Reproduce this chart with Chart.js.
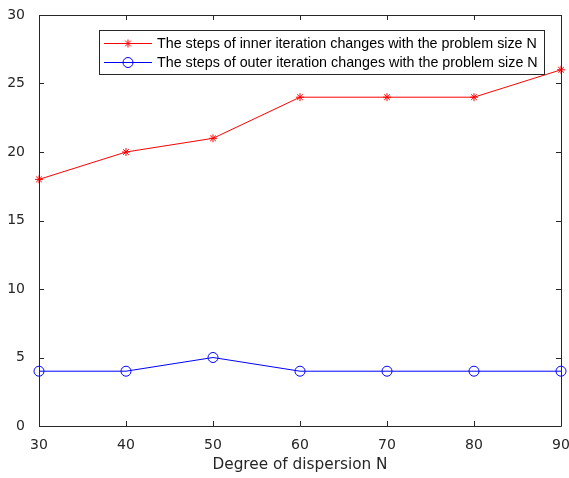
<!DOCTYPE html>
<html><head><meta charset="utf-8">
<script src="https://cdn.jsdelivr.net/npm/chart.js@4"></script>
<style>html,body{margin:0;padding:0;background:#fff}#wrap{width:569px;height:478px}</style>
</head><body><div id="wrap"><canvas id="c" width="569" height="478"></canvas></div>
<script>
const xValues = [30, 40, 50, 60, 70, 80, 90];
const innerSteps = [18, 20, 21, 24, 24, 24, 26];
const outerSteps = [4, 4, 5, 4, 4, 4, 4];
const xTicks = [30, 40, 50, 60, 70, 80, 90];
const yTicks = [0, 5, 10, 15, 20, 25, 30];
const innerLabel = 'The steps of inner iteration changes with the problem size N';
const outerLabel = 'The steps of outer iteration changes with the problem size N';
const xTitle = 'Degree of dispersion N';
const FONT = '"DejaVu Sans", sans-serif';
const LFONT = '"Liberation Sans", Arial, sans-serif';
const AX = '#262626';

const framePlugin = {
  id: 'frame',
  afterDatasetsDraw(chart) {
    const {ctx, chartArea: a, scales: {x, y}} = chart;
    ctx.save();
    ctx.strokeStyle = AX; ctx.lineWidth = 1;
    ctx.beginPath();
    ctx.rect(Math.round(a.left) + 0.5, Math.round(a.top) + 0.5, Math.round(a.right - a.left), Math.round(a.bottom - a.top));
    ctx.stroke();
    ctx.beginPath();
    xTicks.forEach(v => {
      const px = Math.round(x.getPixelForValue(v)) + 0.5;
      ctx.moveTo(px, a.bottom); ctx.lineTo(px, a.bottom - 5);
      ctx.moveTo(px, a.top); ctx.lineTo(px, a.top + 5);
    });
    yTicks.forEach(v => {
      const py = Math.round(y.getPixelForValue(v)) + 0.5;
      ctx.moveTo(a.left, py); ctx.lineTo(a.left + 5, py);
      ctx.moveTo(a.right, py); ctx.lineTo(a.right - 5, py);
    });
    ctx.stroke();
    // legend
    const lx = 99.5, ly = 30.5, lw = 445, lh = 44;
    ctx.fillStyle = '#fff'; ctx.fillRect(lx, ly, lw, lh);
    ctx.strokeStyle = AX; ctx.strokeRect(lx, ly, lw, lh);
    ctx.font = '14.3px ' + LFONT; ctx.textBaseline = 'middle';
    const items = [
      {label: innerLabel, color: '#ff0000', style: 'star', r: 4, y: 43.5},
      {label: outerLabel, color: '#0000ff', style: 'circle', r: 5, y: 62.5}
    ];
    items.forEach(it => {
      ctx.strokeStyle = it.color; ctx.lineWidth = 1;
      ctx.beginPath(); ctx.moveTo(104, it.y); ctx.lineTo(152, it.y); ctx.stroke();
      ctx.fillStyle = 'rgba(0,0,0,0)';
      ctx.strokeStyle = it.color;
      Chart.helpers.drawPoint(ctx, {pointStyle: it.style, radius: it.r, borderWidth: 1}, 128, it.y);
      ctx.fillStyle = '#000';
      ctx.fillText(it.label, 157, it.y + 1);
    });
    ctx.restore();
  }
};

new Chart(document.getElementById('c'), {
  type: 'line',
  data: {
    datasets: [
      {label: innerLabel, data: xValues.map((v, i) => ({x: v, y: innerSteps[i]})),
       borderColor: '#ff0000', backgroundColor: 'rgba(0,0,0,0)', borderWidth: 1,
       pointStyle: 'star', pointRadius: 4, pointBorderColor: '#ff0000', pointBorderWidth: 1, tension: 0},
      {label: outerLabel, data: xValues.map((v, i) => ({x: v, y: outerSteps[i]})),
       borderColor: '#0000ff', backgroundColor: 'rgba(0,0,0,0)', borderWidth: 1,
       pointStyle: 'circle', pointRadius: 5, pointBorderColor: '#0000ff', pointBackgroundColor: 'rgba(0,0,0,0)', pointBorderWidth: 1, tension: 0}
    ]
  },
  options: {
    responsive: false, animation: false, devicePixelRatio: 1,
    clip: false,
    layout: {padding: {top: 15, right: 8, left: 0, bottom: 0}},
    plugins: {legend: {display: false}, tooltip: {enabled: false}},
    scales: {
      x: {type: 'linear', min: 30, max: 90,
          afterFit(s) { s.height = 52; s.paddingLeft = 0; s.paddingRight = 0; },
          afterBuildTicks(s) { s.ticks = xTicks.map(v => ({value: v})); },
          grid: {display: false}, border: {display: false},
          ticks: {color: AX, font: {family: FONT, size: 14}, padding: 3, maxRotation: 0},
          title: {display: true, text: xTitle, color: AX, font: {family: FONT, size: 15.3}, padding: {top: 2}}},
      y: {type: 'linear', min: 0, max: 30,
          afterFit(s) { s.width = 39; s.paddingTop = 0; s.paddingBottom = 0; },
          afterBuildTicks(s) { s.ticks = yTicks.map(v => ({value: v})); },
          grid: {display: false}, border: {display: false},
          ticks: {color: AX, font: {family: FONT, size: 14}, padding: 6}}
    }
  },
  plugins: [framePlugin]
});
</script></body></html>
